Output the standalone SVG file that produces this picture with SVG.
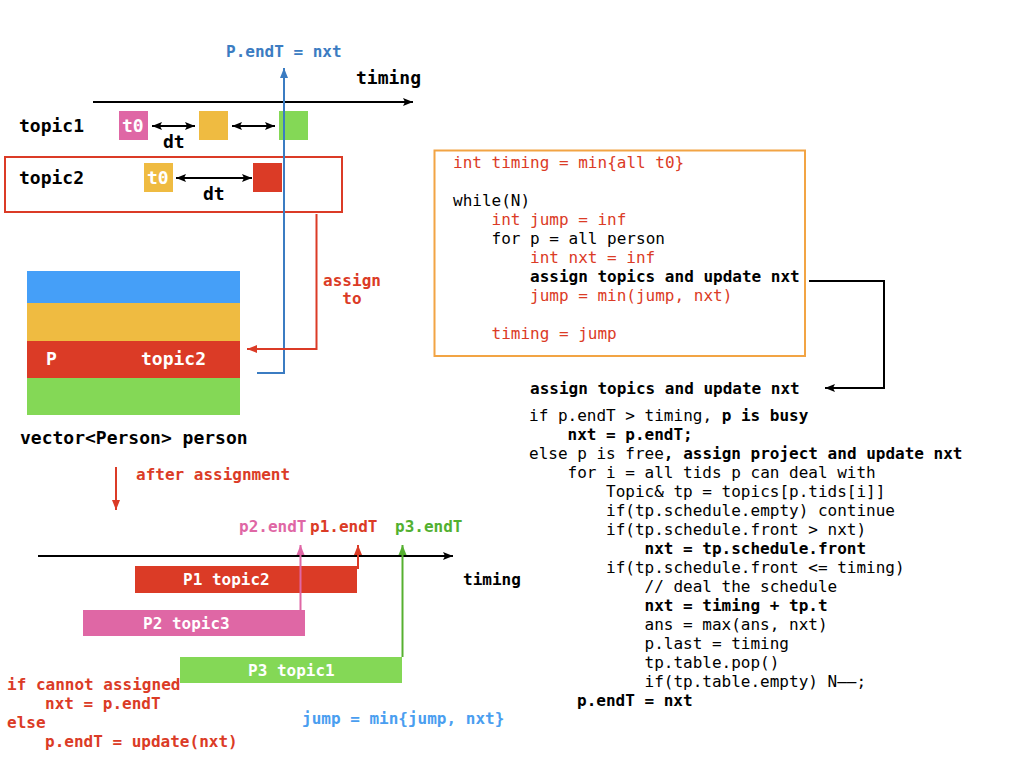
<svg xmlns="http://www.w3.org/2000/svg" width="1024" height="768" viewBox="0 0 1024 768">
<style>
text{font-family:"DejaVu Sans Mono","Liberation Mono",monospace;font-size:16px;fill:#000}
.b{font-weight:bold}
.big{font-size:18px}
.red{fill:#db3b26}
.wh{fill:#fff;font-weight:bold}
.pink{fill:#df67a5}
.grn{fill:#52b030}
.blu{fill:#3b7cc2}
.lblu{fill:#4a9ef0}
.ln{fill:none;stroke-width:2}
</style>
<defs>
<marker id="ak" viewBox="0 0 10 10" refX="10" refY="5" markerWidth="10" markerHeight="10" markerUnits="userSpaceOnUse" orient="auto-start-reverse"><path d="M0,1 L10,5 L0,9 L2,5 z" fill="#000"/></marker>
<marker id="ab" viewBox="0 0 10 10" refX="10" refY="5" markerWidth="10" markerHeight="10" markerUnits="userSpaceOnUse" orient="auto-start-reverse"><path d="M0,1 L10,5 L0,9 z" fill="#3b7cc2"/></marker>
<marker id="ar" viewBox="0 0 10 10" refX="10" refY="5" markerWidth="10" markerHeight="10" markerUnits="userSpaceOnUse" orient="auto-start-reverse"><path d="M0,1 L10,5 L0,9 z" fill="#db3b26"/></marker>
<marker id="ap" viewBox="0 0 10 10" refX="10" refY="5" markerWidth="10" markerHeight="10" markerUnits="userSpaceOnUse" orient="auto-start-reverse"><path d="M0,1 L10,5 L0,9 z" fill="#df67a5"/></marker>
<marker id="ag" viewBox="0 0 10 10" refX="10" refY="5" markerWidth="10" markerHeight="10" markerUnits="userSpaceOnUse" orient="auto-start-reverse"><path d="M0,1 L10,5 L0,9 z" fill="#56b030"/></marker>
</defs>
<rect width="1024" height="768" fill="#fff"/>

<g id="topics-timeline">
<text x="356" y="84" class="b big">timing</text>
<text x="226" y="57" class="b blu">P.endT = nxt</text>
<text x="19" y="132" class="b big">topic1</text>
<rect x="119" y="111" width="29" height="29" fill="#df67a5"/>
<text x="122" y="132" class="wh big">t0</text>
<rect x="199" y="111" width="29" height="29" fill="#efbb41"/>
<rect x="279" y="111" width="29" height="29" fill="#84d856"/>
<text x="163" y="148" class="b big">dt</text>
</g>

<g id="topic2">
<rect x="5" y="157" width="337" height="55" fill="none" stroke="#db3b26" stroke-width="2"/>
<text x="19" y="184" class="b big">topic2</text>
<rect x="144" y="163" width="29" height="29" fill="#efbb41"/>
<text x="147" y="184" class="wh big">t0</text>
<rect x="253" y="163" width="29" height="29" fill="#db3b26"/>
<text x="203" y="200" class="b big">dt</text>
</g>

<g id="person-vector">
<rect x="27" y="271" width="213" height="32" fill="#459ff8"/>
<rect x="27" y="303" width="213" height="38" fill="#efbb41"/>
<rect x="27" y="341" width="213" height="37" fill="#db3b26"/>
<rect x="27" y="378" width="213" height="37" fill="#84d856"/>
<text x="46" y="365" class="wh big">P</text>
<text x="141" y="365" class="wh big">topic2</text>
<text x="20" y="444" class="b big">vector&lt;Person&gt; person</text>
</g>

<g id="assign-to-label">
<text x="352" y="286" class="b red" text-anchor="middle">assign</text>
<text x="352" y="304" class="b red" text-anchor="middle">to</text>
</g>

<g id="main-loop">
<rect x="434.5" y="150.5" width="370.5" height="205.5" fill="none" stroke="#f2a444" stroke-width="2"/>
<text x="453" y="168" class="red">int timing = min{all t0}</text>
<text x="453" y="206">while(N)</text>
<text x="491.5" y="225" class="red">int jump = inf</text>
<text x="491.5" y="244">for p = all person</text>
<text x="530" y="263" class="red">int nxt = inf</text>
<text x="530" y="282" class="b">assign topics and update nxt</text>
<text x="530" y="301" class="red">jump = min(jump, nxt)</text>
<text x="491.5" y="339" class="red">timing = jump</text>
</g>

<g id="assign-detail">
<text x="530" y="394" class="b">assign topics and update nxt</text>
<text x="529" y="421">if p.endT &gt; timing, <tspan class="b">p is busy</tspan></text>
<text x="567.5" y="440" class="b">nxt = p.endT;</text>
<text x="529" y="459">else p is free<tspan class="b">, assign project and update nxt</tspan></text>
<text x="567.5" y="478">for i = all tids p can deal with</text>
<text x="606" y="497">Topic&amp; tp = topics[p.tids[i]]</text>
<text x="606" y="516">if(tp.schedule.empty) continue</text>
<text x="606" y="535">if(tp.schedule.front &gt; nxt)</text>
<text x="644.5" y="554" class="b">nxt = tp.schedule.front</text>
<text x="606" y="573">if(tp.schedule.front &lt;= timing)</text>
<text x="644.5" y="592">// deal the schedule</text>
<text x="644.5" y="611" class="b">nxt = timing + tp.t</text>
<text x="644.5" y="630">ans = max(ans, nxt)</text>
<text x="644.5" y="649">p.last = timing</text>
<text x="644.5" y="668">tp.table.pop()</text>
<text x="644.5" y="687">if(tp.table.empty) N––;</text>
<text x="577" y="706" class="b">p.endT = nxt</text>
</g>

<g id="after-assignment">
<text x="136" y="480" class="b red">after assignment</text>
<text x="463" y="585" class="b">timing</text>
<rect x="135" y="566" width="222" height="27" fill="#db3b26"/>
<text x="183" y="585" class="wh">P1 topic2</text>
<rect x="83" y="610" width="222" height="26" fill="#df67a5"/>
<text x="143" y="629" class="wh">P2 topic3</text>
<rect x="180" y="657" width="222" height="26" fill="#84d856"/>
<text x="248" y="676" class="wh">P3 topic1</text>
<text x="239" y="532" class="b pink">p2.endT</text>
<text x="310" y="532" class="b red">p1.endT</text>
<text x="395" y="532" class="b grn">p3.endT</text>
</g>

<g id="notes">
<text x="7" y="690" class="b red">if cannot assigned</text>
<text x="45" y="709" class="b red">nxt = p.endT</text>
<text x="7" y="728" class="b red">else</text>
<text x="45" y="747" class="b red">p.endT = update(nxt)</text>
<text x="302" y="724" class="b lblu">jump = min{jump, nxt}</text>
</g>

<g id="connectors">
<line x1="93" y1="102" x2="413" y2="102" class="ln" stroke="#000" marker-end="url(#ak)"/>
<line x1="152" y1="126" x2="195" y2="126" class="ln" stroke="#000" marker-start="url(#ak)" marker-end="url(#ak)"/>
<line x1="232" y1="126" x2="275" y2="126" class="ln" stroke="#000" marker-start="url(#ak)" marker-end="url(#ak)"/>
<line x1="176" y1="178" x2="252" y2="178" class="ln" stroke="#000" marker-start="url(#ak)" marker-end="url(#ak)"/>
<polyline points="257,373 284,373 284,68" class="ln" stroke="#3b7cc2" marker-end="url(#ab)"/>
<polyline points="316.5,214 316.5,349 247,349" class="ln" stroke="#db3b26" marker-end="url(#ar)"/>
<polyline points="809,281 884,281 884,388 825,388" class="ln" stroke="#000" marker-end="url(#ak)"/>
<line x1="116" y1="467" x2="116" y2="510" class="ln" stroke="#db3b26" marker-end="url(#ar)"/>
<line x1="38" y1="556" x2="453" y2="556" class="ln" stroke="#000" marker-end="url(#ak)"/>
<line x1="300.5" y1="610" x2="300.5" y2="545" class="ln" stroke="#df67a5" marker-end="url(#ap)"/>
<polyline points="357,568 358,568 358,545" class="ln" stroke="#db3b26" marker-end="url(#ar)"/>
<line x1="402.5" y1="657" x2="402.5" y2="545" class="ln" stroke="#56b030" marker-end="url(#ag)"/>
</g>
</svg>
